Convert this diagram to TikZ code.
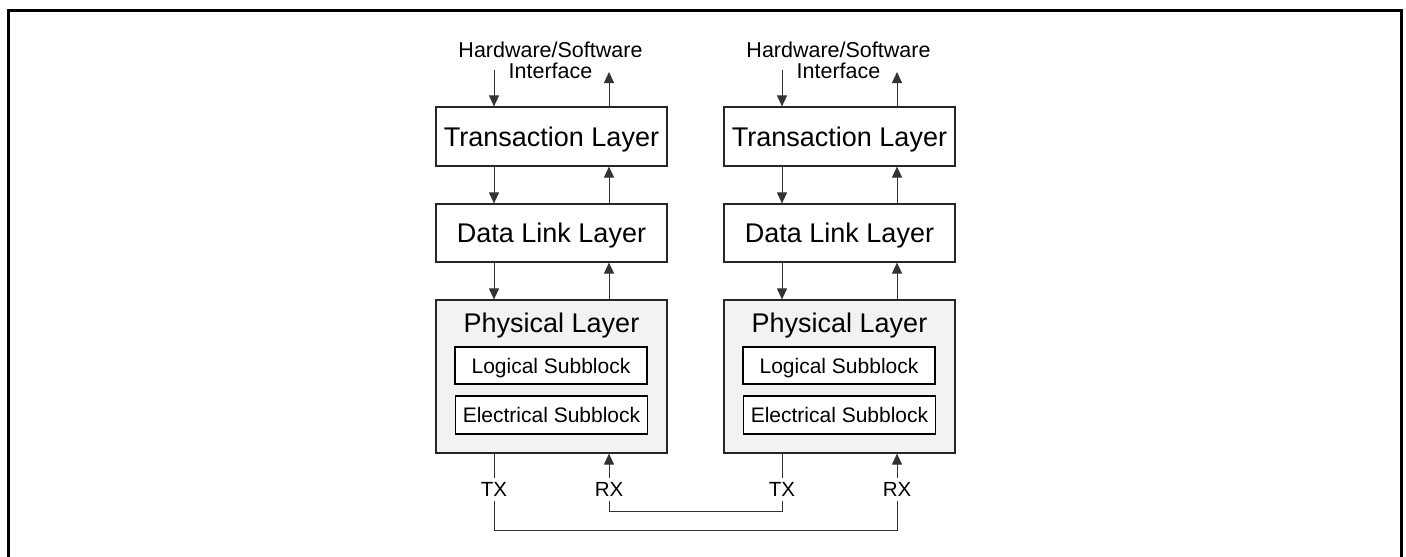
\documentclass[tikz,border=0pt]{standalone}
\usepackage{fontspec}
\setmainfont{Liberation Sans}
\usetikzlibrary{arrows.meta}
\begin{document}
\begin{tikzpicture}[x=1pt,y=-1pt,
  layer/.style={draw=black!85,line width=1.2pt,minimum width=231pt,inner sep=0pt,
    text height=19.3pt,text depth=0pt,font=\fontsize{27}{31}\selectfont},
  sub/.style={draw=black,line width=1.2pt,minimum width=192pt,inner sep=0pt,fill=white,
    text height=15pt,text depth=0pt,font=\fontsize{21}{24}\selectfont},
  conn/.style={line width=1pt,draw=black!80,-{Triangle[length=11pt,width=10pt]}},
  wire/.style={line width=1pt,draw=black!80},
  lbl/.style={inner xsep=0pt,inner ysep=4pt,text height=14.6pt,text depth=0pt,
    font=\fontsize{20.5}{22}\selectfont},
  hwlbl/.style={inner sep=0pt,font=\fontsize{21.5}{22}\selectfont},
  big/.style={inner sep=0pt,font=\fontsize{27}{31}\selectfont}]
\useasboundingbox (0,0) rectangle (1406,557);
\draw[line width=3pt] (8,557) -- (8,10.5) -- (1401.5,10.5) -- (1401.5,557);
\foreach \i/\cx in {L/551.5,R/839.5}{
  \node[hwlbl,anchor=base] (hw\i) at (\cx-1,57) {Hardware/Software};
  \node[hwlbl,anchor=base] (if\i) at (\cx-1,78.5) {Interface};
  \node[layer,minimum height=59pt] (tr\i) at (\cx,136.5) {Transaction Layer};
  \node[layer,minimum height=58pt] (dl\i) at (\cx,233) {Data Link Layer};
  \node[layer,fill=black!5,minimum height=153pt] (ph\i) at (\cx,376.5) {};
  \node[big,anchor=base] (pht\i) at (\cx,332) {Physical Layer};
  \node[sub,minimum height=37pt] (lg\i) at (\cx-0.5,365.5) {Logical Subblock};
  \node[sub,minimum height=38pt] (el\i) at (\cx,415) {Electrical Subblock};
  \coordinate (in\i) at (\cx-57.5,70);
  \coordinate (out\i) at (\cx+57.5,72);
  \draw[conn] (in\i) -- (in\i |- tr\i.north);
  \draw[conn] (out\i |- tr\i.north) -- (out\i);
  \draw[conn] ([xshift=-57.5pt]tr\i.south) -- ([xshift=-57.5pt]dl\i.north);
  \draw[conn] ([xshift=57.5pt]dl\i.north) -- ([xshift=57.5pt]tr\i.south);
  \draw[conn] ([xshift=-57.5pt]dl\i.south) -- ([xshift=-57.5pt]ph\i.north);
  \draw[conn] ([xshift=57.5pt]ph\i.north) -- ([xshift=57.5pt]dl\i.south);
  \node[lbl] (tx\i) at (\cx-57.5,489.5) {TX};
  \node[lbl] (rx\i) at (\cx+57.5,489.5) {RX};
  \draw[wire] (tx\i.north |- ph\i.south) -- (tx\i.north);
  \draw[conn] (rx\i.north) -- (rx\i.north |- ph\i.south);
}
\coordinate (busA) at (0,530);
\coordinate (busB) at (0,511);
\draw[wire] (txL.south) -- (txL.south |- busA) -| (rxR.south);
\draw[wire] (rxL.south) -- (rxL.south |- busB) -| (txR.south);
\end{tikzpicture}
\end{document}
